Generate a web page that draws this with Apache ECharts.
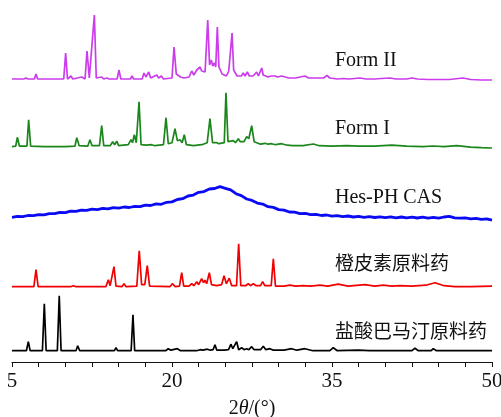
<!DOCTYPE html>
<html>
<head>
<meta charset="utf-8">
<script src="https://cdn.jsdelivr.net/npm/echarts@6/dist/echarts.min.js"></script>
<style>
  html, body { margin: 0; padding: 0; background: #fff; }
  #chart { width: 501px; height: 417px; }
</style>
</head>
<body>
<div id="chart"></div>
<script>
// x ticks (2theta, degrees)
var tickLabels = [5, 20, 35, 50];

// patterns as [2theta, intensity]
var formII = [[5,0],[6.1,0],[6.31,1],[6.5,0],[7.1,0],[7.25,5],[7.4,0],[9.85,0],[10.03,26],[10.2,0],[10.53,3],[10.7,0],[11.53,2],[11.85,0],[12.03,28],[12.25,1],[12.72,64],[12.9,1],[13.41,2],[13.6,0],[13.91,1],[14.1,0],[14.85,0],[15.03,9],[15.2,0],[16.1,0],[16.25,3],[16.4,0],[17.2,0],[17.375,6],[17.55,2],[17.82,7],[18.0,1],[18.57,4],[18.75,1],[19.0,3],[19.2,0],[20.0,1],[20.19,32],[20.4,5],[20.56,6],[20.8,2],[21.13,1],[21.6,2],[21.85,8],[22.05,4],[22.32,9],[22.48,7],[22.63,12],[22.78,8],[22.91,10],[23.1,7],[23.35,59],[23.52,14],[23.68,19],[23.82,13],[23.97,16],[24.1,12],[24.25,52],[24.4,12],[24.5,12],[24.7,5],[24.875,4],[25.1,3],[25.32,8],[25.45,6],[25.63,46],[25.78,9],[25.9,9],[26.1,3],[26.25,2],[26.5,3],[26.68,6],[26.85,3],[27.06,7],[27.25,3],[27.6,3],[27.94,7],[28.1,3],[28.41,11],[28.55,4],[28.72,5],[29.0,2],[29.3,3],[29.66,3],[29.9,2],[30.28,3],[30.6,2],[30.97,1],[31.6,1],[32.0,2],[32.47,3],[32.8,1],[33.22,1],[33.7,1],[34.2,1],[34.53,3.5],[34.8,1],[35.5,0],[36.03,0.5],[36.6,0],[37.1,0.5],[37.63,1],[38.2,0],[39.0,0],[39.6,0.5],[40.44,1],[41.0,0],[42.0,0],[42.5,1],[43.0,0],[44.0,-0.5],[45.0,-0.5],[46.0,-0.5],[47.28,1],[48,-0.5],[49,-1],[50,-1]];

var formI = [[5,0],[5.35,0.5],[5.5,9.4],[5.7,0.5],[6.4,0.5],[6.56,27],[6.75,0.5],[8,0],[10.0,0],[10.9,0.5],[11.07,9],[11.3,1],[12.1,0.5],[12.31,7],[12.5,1],[13.2,1],[13.41,21],[13.6,1],[14.2,1],[14.44,5],[14.62,2],[14.82,5.5],[15.0,1],[15.9,2],[16.16,7],[16.3,4],[16.47,12],[16.65,4],[16.91,45],[17.1,2],[17.6,1.5],[18.1,2],[18.4,1],[19.2,2],[19.44,29],[19.65,3],[20.0,4],[20.28,18],[20.5,6],[20.75,7],[20.95,4],[21.15,12],[21.35,2],[22.0,1],[22.8,2],[23.3,4],[23.56,28],[23.8,4],[24.19,4],[24.4,3],[24.9,4],[25.06,54],[25.25,5],[25.75,6],[25.95,4],[26.22,8],[26.4,5],[26.53,7],[26.75,5],[27.0,10],[27.2,8],[27.47,21],[27.7,5],[27.94,4],[28.3,2.5],[28.72,3.4],[29.0,2.5],[29.35,3],[29.7,2],[30.28,3],[30.8,1.5],[31.34,1],[32.3,1],[33.25,2.7],[33.8,1],[35,0.5],[36.38,1],[37.5,0.5],[39,0.5],[40.6,1.5],[42,0.5],[43.5,0],[44.47,0.7],[45.5,0],[46.69,1],[48,-0.5],[49,-1],[50,-1.3]];

// amorphous pattern, one value every 0.5 deg from 5 to 50
var hesStart = 5, hesStep = 0.5;
var hesPH = [0.0,0.9,0.7,1.8,1.6,2.7,2.5,3.7,3.6,4.9,4.6,6.1,5.9,7.2,6.9,8.1,7.7,8.9,8.5,9.6,9.2,10.3,9.8,10.9,10.6,12.1,11.8,13.4,13.0,15.0,15.4,17.8,18.6,21.3,22.2,25.0,25.7,28.3,28.8,30.6,29.0,27.4,23.6,21.7,18.3,16.9,14.2,13.2,10.6,9.9,7.7,7.2,5.3,5.2,3.7,3.9,2.6,3.0,1.8,2.3,1.2,1.7,0.7,1.3,0.3,0.9,0.0,0.7,-0.2,0.5,-0.4,0.4,-0.5,0.3,-0.6,0.2,-0.7,0.1,-0.8,0.0,-0.8,0.3,0.9,-0.6,-0.9,-0.5,-1.5,-1.0,-2.0,-1.6,-2.8];

var hesperetin = [[5,0],[7.05,0],[7.25,17],[7.45,0],[10.5,0],[10.75,1],[11,0],[13.8,0],[14.03,7],[14.2,1],[14.56,20],[14.75,0.5],[15.3,0],[15.5,3],[15.7,0],[16.7,0.5],[16.93,36],[17.15,2],[17.45,2],[17.68,21],[17.9,0.5],[19.8,0],[20.03,3],[20.3,0],[20.7,0.5],[20.91,14],[21.1,0.5],[21.6,0.5],[21.85,3],[22.05,1],[22.32,5],[22.5,2],[22.78,8],[22.95,4],[23.09,6.5],[23.25,3],[23.5,14],[23.7,2],[24.2,1],[24.65,2],[24.875,11],[25.1,3],[25.37,8.5],[25.6,1],[26.05,1],[26.25,43],[26.45,1],[26.9,1],[27.15,3],[27.35,1],[27.62,3],[27.9,1],[28.3,1],[28.5,5],[28.7,1],[29.3,1],[29.5,28],[29.7,0.5],[30.5,0.5],[31.06,1.5],[31.6,0.5],[32.28,1],[33.0,0.5],[33.875,1.5],[34.6,0.5],[35.59,2.5],[36.5,0.5],[38.09,2],[39.0,0.5],[39.81,1.5],[40.6,0.5],[41.375,1],[42.5,0.5],[43.8,1.5],[44.66,4],[45.5,1],[46.5,0],[48,0],[50,0.5]];

var palmatine = [[5,0],[6.35,0],[6.53,9],[6.7,0],[7.85,0],[8.03,47],[8.2,0],[9.25,0],[9.43,55],[9.6,0],[11.0,0],[11.16,5],[11.35,0],[14.6,0],[14.75,3],[14.9,0],[16.17,0],[16.34,36],[16.5,0],[19.4,0],[19.65,2],[19.9,0.5],[20.5,2],[20.8,0],[22.3,0],[22.63,1],[22.9,0.5],[23.31,1.5],[23.6,0.5],[23.85,1],[24.03,6],[24.2,0.5],[24.9,0.5],[25.3,1],[25.53,6.5],[25.7,2],[25.85,2],[26.06,9],[26.25,1],[26.53,3],[26.75,1],[27.0,2],[27.2,1],[27.47,4],[27.7,1],[28.3,1],[28.56,4.5],[28.8,1],[29.19,2],[29.5,0.5],[30.5,0.5],[31.22,2],[31.7,0.5],[32.47,2],[33.2,0],[34.8,0],[35.12,3],[35.5,0],[37.47,0.5],[38.5,0],[42.5,0],[42.78,2.5],[43.1,0],[44.3,0],[44.5,2],[44.8,0],[47,0],[50,0]];

var names = ["Form II", "Form I", "Hes-PH CAS", "橙皮素原料药", "盐酸巴马汀原料药"];

var myChart = echarts.init(document.getElementById("chart"), null, { width: 501, height: 417 });

// stacking offsets and label positions (layout only)
var layout = [
    { data: formII, offset: 283, color: "#cc3cec", labelY: 61 },
    { data: formI, offset: 215.3, color: "#1b861b", labelY: 129 },
    { data: hesPH.map(function (v, i) { return [hesStart + i * hesStep, v]; }), offset: 144.7, color: "#0a0af5", labelY: 198, width: 2.8 },
    { data: hesperetin, offset: 75.3, color: "#f00000", labelY: 263 },
    { data: palmatine, offset: 11.3, color: "#000000", labelY: 331 },
];

var series = layout.map(function (s, i) {
    return {
        name: names[i],
        type: "line",
        showSymbol: false,
        silent: true,
        animation: false,
        lineStyle: { color: s.color, width: s.width || 1.7 },
        data: s.data.map(function (p) { return [p[0], p[1] + s.offset]; }),
    };
});

var option = {
    backgroundColor: "#fff",
    grid: { left: 12, right: 9, top: 0, bottom: 55, containLabel: false, outerBoundsMode: "none" },
    xAxis: {
        type: "value",
        min: 5,
        max: 50,
        interval: 2.5,
        name: "{a|2}{i|θ}{a|/(°)}",
        nameLocation: "middle",
        nameGap: 37,
        nameTextStyle: {
            rich: {
                a: { fontFamily: "Liberation Serif", fontSize: 20, color: "#111" },
                i: { fontFamily: "Liberation Serif", fontSize: 20, fontStyle: "italic", color: "#111" },
            },
        },
        axisLine: { lineStyle: { color: "#111", width: 1 } },
        axisTick: { length: 5, lineStyle: { color: "#111" } },
        splitLine: { show: false },
        axisLabel: {
            margin: 9,
            fontFamily: "Liberation Serif",
            fontSize: 21,
            color: "#111",
            formatter: function (v) {
                return tickLabels.indexOf(v) >= 0 ? String(v) : "";
            },
        },
    },
    yAxis: { type: "value", min: 0, max: 362, show: false },
    graphic: layout.map(function (s, i) {
        return {
            type: "text",
            x: 335,
            y: s.labelY,
            style: {
                text: names[i],
                font: i < 3 ? "20px 'Liberation Serif'" : "19px 'Noto Sans CJK SC'",
                fill: "#111",
                verticalAlign: "middle",
            },
        };
    }),
    series: series,
};

myChart.setOption(option);
</script>
</body>
</html>
